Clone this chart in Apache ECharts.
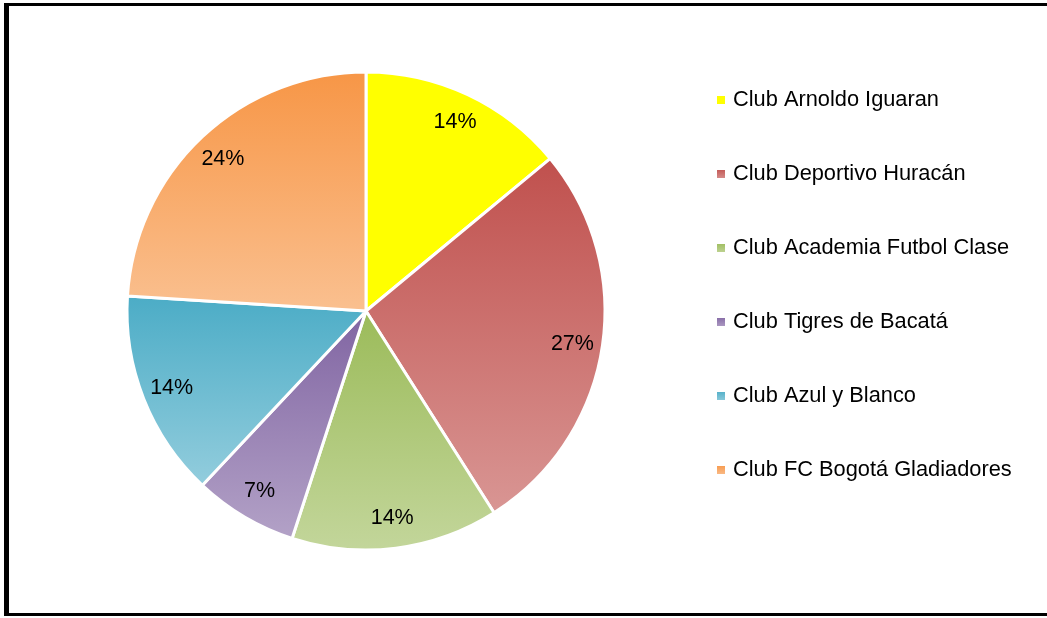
<!DOCTYPE html>
<html>
<head>
<meta charset="utf-8">
<script src="https://cdn.jsdelivr.net/npm/echarts@6/dist/echarts.min.js"></script>
<style>
html,body{margin:0;padding:0;background:#fff;}
#chart{width:1047px;height:618px;}
</style>
</head>
<body>
<div id="chart"></div>
<script>
const categories = ['Club Arnoldo Iguaran','Club Deportivo Huracán','Club Academia Futbol Clase','Club Tigres de Bacatá','Club Azul y Blanco','Club FC Bogotá Gladiadores'];
const values = [14, 27, 14, 7, 14, 24];
const topColors = ['#FFFF00','#C0504D','#9BBB59','#8064A2','#4BACC6','#F79646'];
const bottomColors = ['#FFFF00','#D99694','#C3D69B','#B3A2C7','#93CDDD','#FAC090'];

function grad(i){
  return new echarts.graphic.LinearGradient(0,0,0,1,[
    {offset:0,color:topColors[i]},{offset:1,color:bottomColors[i]}
  ]);
}
const mainData = categories.map((n,i)=>({name:n,value:values[i],itemStyle:{color:grad(i)}}));
const labelData = categories.map((n,i)=>({name:n,value:values[i]}));

const chart = echarts.init(document.getElementById('chart'));
chart.setOption({
  animation:false,
  backgroundColor:'#fff',
  legend:{
    orient:'vertical',
    left:715, top:88,
    padding:0,
    itemWidth:10, itemHeight:10,
    itemGap:50,
    icon:'rect',
    data:categories,
    textStyle:{fontFamily:'Liberation Sans',fontSize:21.8,color:'#000',lineHeight:24,padding:[0,0,0,2]}
  },
  series:[
    {
      type:'pie',
      center:[366,311],
      radius:[0,239],
      startAngle:90,
      clockwise:true,
      data:mainData,
      label:{show:false},
      labelLine:{show:false},
      itemStyle:{borderColor:'#fff',borderWidth:3},
      emphasis:{disabled:true}
    },
    {
      type:'pie',
      center:[366,311],
      radius:[173,239],
      startAngle:90,
      clockwise:true,
      silent:true,
      data:labelData,
      itemStyle:{color:'rgba(0,0,0,0)',borderWidth:0},
      label:{show:true,position:'inside',formatter:'{d}%',fontFamily:'Liberation Sans',fontSize:21.5,color:'#000'},
      labelLine:{show:false},
      emphasis:{disabled:true}
    }
  ],
  graphic:[
    {type:'rect',z:100,shape:{x:4,y:3,width:5,height:613},style:{fill:'#000'}},
    {type:'rect',z:100,shape:{x:4,y:3,width:1043,height:3},style:{fill:'#000'}},
    {type:'rect',z:100,shape:{x:4,y:613,width:1043,height:3},style:{fill:'#000'}}
  ]
});
</script>
</body>
</html>
